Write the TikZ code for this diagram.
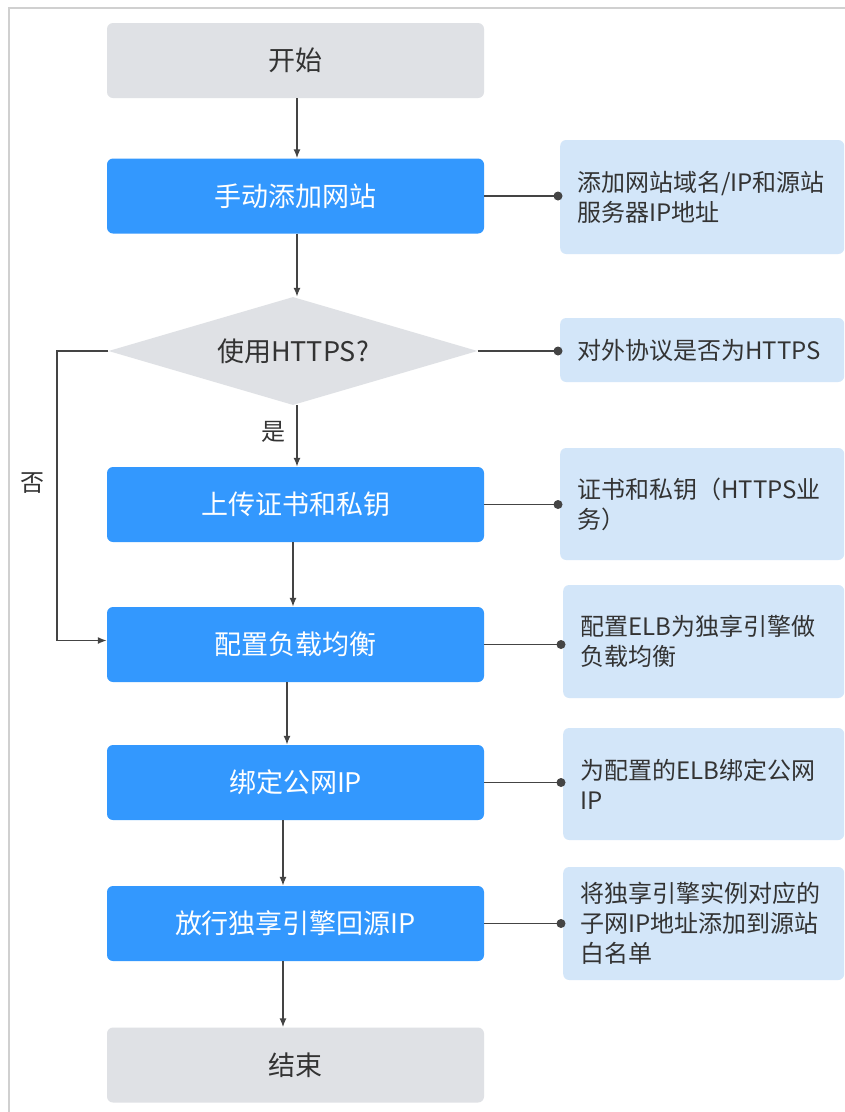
\documentclass[tikz,border=0pt]{standalone}
\usepackage{fontspec}
\setmainfont{Noto Sans CJK SC}
\usetikzlibrary{shapes.geometric,arrows.meta}
\definecolor{blueb}{HTML}{3398FE}
\definecolor{greyb}{HTML}{DFE1E5}
\definecolor{noteb}{HTML}{D3E6F9}
\definecolor{txt}{HTML}{333333}
\definecolor{lin}{HTML}{444444}
\definecolor{frame}{HTML}{D0D0D0}
\begin{document}
\begin{tikzpicture}[x=1pt,y=-1pt,
  boxbase/.style={rounded corners=6pt, minimum width=377pt, minimum height=75pt, inner sep=0pt, align=center, font=\fontsize{27}{32}\selectfont},
  greybox/.style={boxbase, fill=greyb, text=txt},
  bluebox/.style={boxbase, fill=blueb, text=white},
  decision/.style={diamond, aspect=3.42, fill=greyb, text=txt, minimum width=369pt, minimum height=108pt, inner sep=0pt, font=\fontsize{27}{32}\selectfont},
  notebox/.style={rounded corners=6pt, fill=noteb, text=txt, anchor=west, align=left, inner xsep=17pt, inner ysep=0pt, font=\fontsize{24}{30}\selectfont},
  arr/.style={draw=lin, line width=1.5pt, -{Latex[length=9pt,width=7pt]}},
  link/.style={draw=lin, line width=1.5pt},
  lab/.style={text=txt, font=\fontsize{24}{30}\selectfont, inner sep=0pt}]
\useasboundingbox (0,0) rectangle (845,1112);
\fill[white] (0,0) rectangle (845,1112);
\draw[frame, line width=2pt] (845,8) -- (9,8) -- (9,1112);

\node[greybox] (st) at (295.5,60.5) {开始};
\node[bluebox] (b1) at (295.5,196) {手动添加网站};
\node[decision] (dia) at (293,351) {使用HTTPS?};
\node[bluebox] (b3) at (295.5,504.5) {上传证书和私钥};
\node[bluebox] (b4) at (295.5,644.5) {配置负载均衡};
\node[bluebox] (b5) at (295.5,782.5) {绑定公网IP};
\node[bluebox] (b6) at (295.5,923.5) {放行独享引擎回源IP};
\node[greybox] (en) at (295.5,1065) {结束};

\node[notebox, text width=250pt, minimum height=114pt] (n1) at (560,197) {添加网站域名/IP和源站\\服务器IP地址};
\node[notebox, text width=250pt, minimum height=64pt] (n2) at (560,350) {对外协议是否为HTTPS};
\node[notebox, text width=250pt, minimum height=112pt] (n3) at (560,504) {证书和私钥（HTTPS业\\务）};
\node[notebox, text width=247pt, minimum height=113pt] (n4) at (563,641.5) {配置ELB为独享引擎做\\负载均衡};
\node[notebox, text width=247pt, minimum height=112pt] (n5) at (563,784) {为配置的ELB绑定公网\\IP};
\node[notebox, text width=247pt, minimum height=113pt] (n6) at (563,923.5) {将独享引擎实例对应的\\子网IP地址添加到源站\\白名单};

\draw[arr] ([xshift=1.5pt]st.south) -- ([xshift=1.5pt]b1.north);
\draw[arr] ([xshift=1.5pt]b1.south) -- ([xshift=4pt]dia.north);
\draw[arr] ([xshift=4pt]dia.south) -- ([xshift=1.5pt]b3.north);
\draw[arr] ([xshift=-2.5pt]b3.south) -- ([xshift=-2.5pt]b4.north);
\draw[arr] ([xshift=-8.5pt]b4.south) -- ([xshift=-8.5pt]b5.north);
\draw[arr] ([xshift=-12.5pt]b5.south) -- ([xshift=-12.5pt]b6.north);
\draw[arr] ([xshift=-12.5pt]b6.south) -- ([xshift=-12.5pt]en.north);

\coordinate (nocorner) at (57,351);
\draw[arr] (dia.west) -- (nocorner) |- ([yshift=4pt]b4.west);

\node[lab] (yes) at (273,432) {是};
\node[lab] (no) at (32,483) {否};

\foreach \b/\n in {b1/n1, dia/n2, b3/n3, b4/n4, b5/n5, b6/n6}{
  \draw[link] (\b.east) -- (\b.east -| \n.west);
  \fill[lin] ([xshift=-2pt]\b.east -| \n.west) circle (4.5pt);
}
\end{tikzpicture}
\end{document}
